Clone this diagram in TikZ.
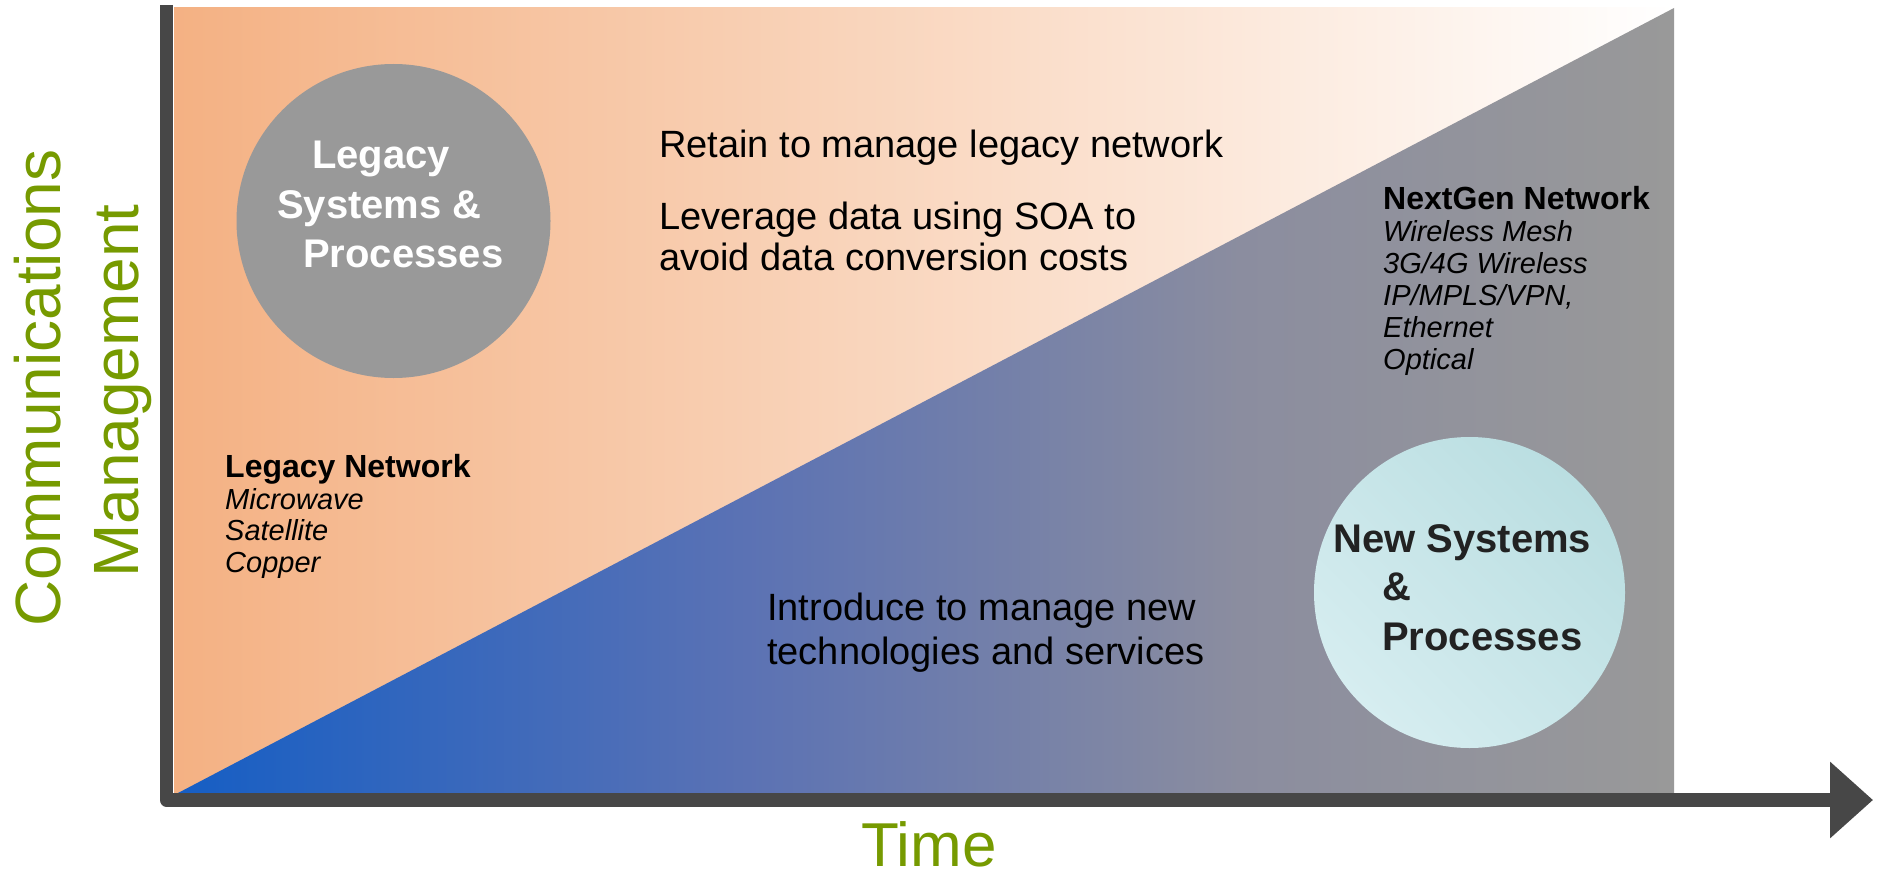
\documentclass[tikz,border=0pt]{standalone}
\usepackage{fontspec}
\setmainfont{Liberation Sans}
\usetikzlibrary{arrows.meta}
\definecolor{axisgray}{RGB}{71,71,71}
\definecolor{orangeL}{RGB}{244,177,131}
\definecolor{greenT}{RGB}{118,154,0}
\definecolor{circgray}{RGB}{153,153,153}
\definecolor{cyanA}{RGB}{214,237,240}
\definecolor{cyanB}{RGB}{186,222,225}
\definecolor{darktext}{RGB}{34,34,34}
\pgfdeclarehorizontalshading{lowgrad}{100bp}{rgb(0bp)=(0.086,0.369,0.769); rgb(25bp)=(0.086,0.369,0.769); rgb(44bp)=(0.357,0.447,0.706); rgb(60.5bp)=(0.545,0.553,0.624); rgb(75bp)=(0.6,0.6,0.6); rgb(100bp)=(0.6,0.6,0.6)}
\tikzset{
  txt/.style={inner sep=0pt, anchor=base west},
  midtxt/.style={txt, font=\fontsize{38}{44}\selectfont},
  headtxt/.style={txt, font=\fontsize{32}{38}\selectfont\bfseries},
  itemtxt/.style={txt, font=\fontsize{29}{34}\selectfont\itshape},
  circtxt/.style={txt, font=\fontsize{40}{48}\selectfont\bfseries},
  axislabel/.style={inner sep=0pt, anchor=base, text depth=0pt, text=greenT, font=\fontsize{64}{77}\selectfont},
  axisline/.style={draw=axisgray, line width=13.5pt, line join=round, -{Triangle[length=43pt,width=74pt]}},
}
\begin{document}
\begin{tikzpicture}[x=1pt,y=-1pt]
\useasboundingbox (0,0) rectangle (1879,875);
% background gradients
\shade[left color=orangeL, right color=white] (174,8) rectangle (1674,793);
\shade[shading=lowgrad] (178,793) -- (1674,8) -- (1674,793) -- cycle;
% circles
\node[circle, fill=circgray, minimum size=314pt, inner sep=0pt] (legacy) at (393.5,221) {};
\node[circle, minimum size=311pt, inner sep=0pt, left color=cyanA, right color=cyanB, shading angle=135] (newsys) at (1469.5,592.5) {};
% legacy circle text
\node[circtxt, text=white] (lg1) at (312,168) {Legacy};
\node[circtxt, text=white] (lg2) at (277,218) {Systems \&};
\node[circtxt, text=white] (lg3) at (303,267) {Processes};
% new systems circle text
\node[circtxt, text=darktext] (ns1) at (1333,552) {New Systems};
\node[circtxt, text=darktext] (ns2) at (1382,600) {\&};
\node[circtxt, text=darktext] (ns3) at (1382,650) {Processes};
% upper texts
\node[midtxt] (ret) at (659,157) {Retain to manage legacy network};
\node[midtxt] (lev1) at (659,229) {Leverage data using SOA to};
\node[midtxt] (lev2) at (659,270) {avoid data conversion costs};
% lower texts
\node[midtxt] (intro1) at (767,620) {Introduce to manage new};
\node[midtxt] (intro2) at (767,664) {technologies and services};
% NextGen
\node[headtxt] (ng0) at (1383,209) {NextGen Network};
\node[itemtxt] (ng1) at (1383,241) {Wireless Mesh};
\node[itemtxt] (ng2) at (1383,273) {3G/4G Wireless};
\node[itemtxt] (ng3) at (1383,305) {IP/MPLS/VPN,};
\node[itemtxt] (ng4) at (1383,337) {Ethernet};
\node[itemtxt] (ng5) at (1383,369) {Optical};
% Legacy network
\node[headtxt] (ln0) at (225,477) {Legacy Network};
\node[itemtxt] (ln1) at (225,509) {Microwave};
\node[itemtxt] (ln2) at (225,540) {Satellite};
\node[itemtxt] (ln3) at (225,572) {Copper};
% axes
\coordinate (ytop) at (166.5,5);
\coordinate (orig) at (166.5,800);
\coordinate (xend) at (1873,800);
\draw[axisline] (ytop) -- (orig) -- (xend);
% axis labels
\node[axislabel, rotate=90] (comm) at (60,388) {Communications};
\node[axislabel, rotate=90] (mgmt) at (138,391) {Management};
\node[axislabel, font=\fontsize{62}{74}\selectfont] (time) at (929,866) {Time};
\end{tikzpicture}
\end{document}
